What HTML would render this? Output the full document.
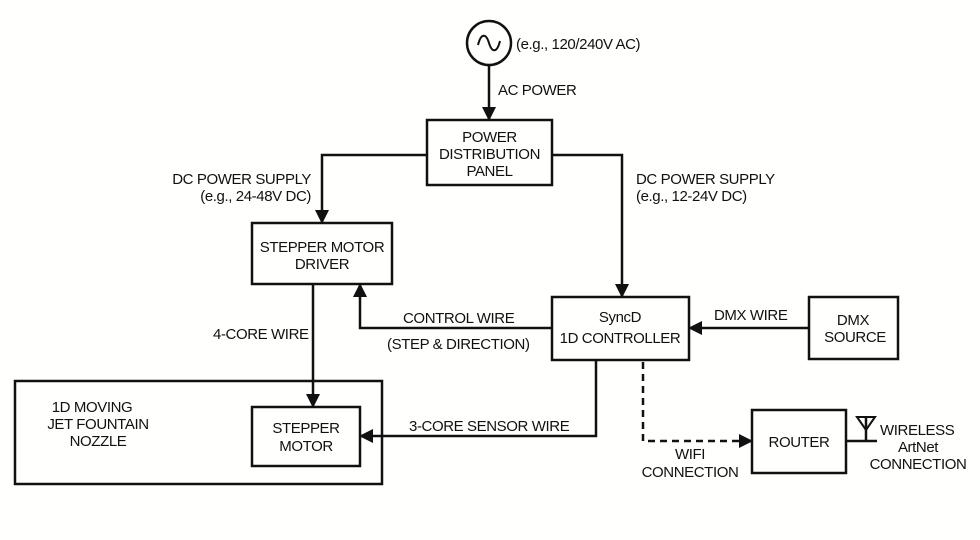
<!DOCTYPE html>
<html><head><meta charset="utf-8"><style>
html,body{margin:0;padding:0;background:#fffffd;}
svg text{font-family:"Liberation Sans",Arial,sans-serif;font-size:15px;fill:#111;letter-spacing:-0.4px;}
</style></head><body>
<svg width="980" height="535" viewBox="0 0 980 535" xmlns="http://www.w3.org/2000/svg">
<defs>
<marker id="b" markerWidth="14" markerHeight="14" refX="13" refY="7" orient="auto" markerUnits="userSpaceOnUse">
<path d="M0,0 L14,7 L0,14 z" fill="#111"/></marker>
</defs>
<g fill="none" stroke="#111" stroke-width="2.5">
<circle cx="489" cy="43" r="22"/>
<path d="M478,45 C481,33 486,33 489,43 C492,53 497,53 500,41" stroke-width="2"/>
<rect x="427" y="120" width="125" height="65"/>
<rect x="252" y="223" width="140" height="61"/>
<rect x="552" y="297" width="137" height="63"/>
<rect x="809" y="297" width="89" height="62"/>
<rect x="15" y="381" width="367" height="103"/>
<rect x="252" y="407" width="108" height="59"/>
<rect x="752" y="410" width="94" height="63"/>
<line x1="489" y1="65" x2="489" y2="120" marker-end="url(#b)"/>
<polyline points="427,155 322,155 322,223" marker-end="url(#b)"/>
<polyline points="552,155 622,155 622,297" marker-end="url(#b)"/>
<line x1="809" y1="328" x2="689" y2="328" marker-end="url(#b)"/>
<polyline points="552,328 360,328 360,284" marker-end="url(#b)"/>
<line x1="313" y1="284" x2="313" y2="407" marker-end="url(#b)"/>
<polyline points="596,360 596,436 360,436" marker-end="url(#b)"/>
<polyline points="643,362 643,441 752,441" stroke-dasharray="7,5" marker-end="url(#b)"/>
<line x1="846" y1="441" x2="877" y2="441"/>
<line x1="866" y1="441" x2="866" y2="418"/>
<path d="M857,417 L866,430 L875,417 Z" stroke-width="2"/>
</g>
<text x="516" y="49">(e.g., 120/240V AC)</text>
<text x="498" y="95">AC POWER</text>
<text x="489.5" y="142" text-anchor="middle">POWER</text>
<text x="489.5" y="159" text-anchor="middle">DISTRIBUTION</text>
<text x="489.5" y="176" text-anchor="middle">PANEL</text>
<text x="311" y="184" text-anchor="end">DC POWER SUPPLY</text>
<text x="311" y="201" text-anchor="end">(e.g., 24-48V DC)</text>
<text x="636" y="184">DC POWER SUPPLY</text>
<text x="636" y="201">(e.g., 12-24V DC)</text>
<text x="322" y="252" text-anchor="middle">STEPPER MOTOR</text>
<text x="322" y="269" text-anchor="middle">DRIVER</text>
<text x="620" y="322" text-anchor="middle">SyncD</text>
<text x="620" y="343" text-anchor="middle">1D CONTROLLER</text>
<text x="853" y="325" text-anchor="middle">DMX</text>
<text x="855" y="342" text-anchor="middle">SOURCE</text>
<text x="714" y="320">DMX WIRE</text>
<text x="403" y="323">CONTROL WIRE</text>
<text x="387" y="349">(STEP &amp; DIRECTION)</text>
<text x="213" y="339">4-CORE WIRE</text>
<text x="92" y="412" text-anchor="middle">1D MOVING</text>
<text x="98" y="429" text-anchor="middle">JET FOUNTAIN</text>
<text x="98" y="446" text-anchor="middle">NOZZLE</text>
<text x="306" y="433" text-anchor="middle">STEPPER</text>
<text x="306" y="451" text-anchor="middle">MOTOR</text>
<text x="409" y="431">3-CORE SENSOR WIRE</text>
<text x="799" y="447" text-anchor="middle">ROUTER</text>
<text x="690" y="459" text-anchor="middle">WIFI</text>
<text x="690" y="477" text-anchor="middle">CONNECTION</text>
<text x="880" y="435">WIRELESS</text>
<text x="918" y="452" text-anchor="middle">ArtNet</text>
<text x="918" y="469" text-anchor="middle">CONNECTION</text>
</svg>
</body></html>
